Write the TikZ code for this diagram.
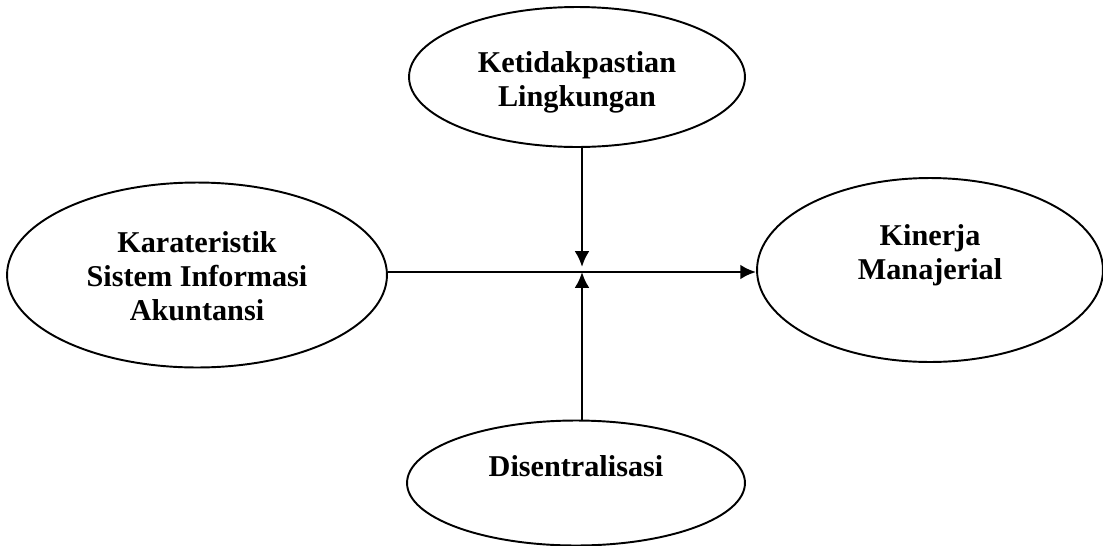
\documentclass[tikz,border=0pt]{standalone}
\usepackage{fontspec}
\setmainfont{Liberation Serif}
\usetikzlibrary{shapes.geometric,arrows.meta}
\tikzset{
  >={Latex[length=9pt,width=8.5pt]},
  var/.style={draw, ellipse, line width=1.1pt, inner sep=0pt},
  lbl/.style={align=center, font=\fontsize{17.2}{19.5}\selectfont\bfseries},
  link/.style={->, line width=1.6pt}
}

\begin{document}
\begin{tikzpicture}[x=0.02cm, y=-0.02cm]
      \useasboundingbox (0,0) rectangle (1103,545);
      % variabel
      \node[var, minimum width=6.72cm, minimum height=2.8cm] (kl) at (577,77) {};
      \node[var, minimum width=7.6cm, minimum height=3.7cm] (ksia) at (197,275) {};
      \node[var, minimum width=6.92cm, minimum height=3.68cm] (km) at (930,270) {};
      \node[var, minimum width=6.76cm, minimum height=2.5cm] (dis) at (576,483) {};
      \node[lbl] (kltext) at (577,82) {Ketidakpastian\\Lingkungan};
      \node[lbl] (ksiatext) at (197,276) {Karateristik\\Sistem Informasi\\Akuntansi};
      \node[lbl] (kmtext) at (930,255) {Kinerja\\Manajerial};
      \node[lbl] (distext) at (576,466) {Disentralisasi};
      % panah
      \coordinate (mid) at (582,272);
      \draw[link] (ksia.east |- mid) -- (km.west |- mid);
      \draw[link] (kl.south -| mid) -- ([yshift=0.1cm]mid);
      \draw[link] (dis.north -| mid) -- (mid);
\end{tikzpicture}
\end{document}
